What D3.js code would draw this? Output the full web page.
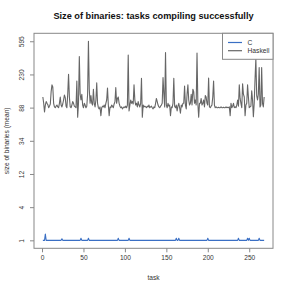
<!DOCTYPE html>
<html><head><meta charset="utf-8">
<script src="https://cdn.jsdelivr.net/npm/d3@7"></script>
<style>body{margin:0;background:#fff}svg{display:block}text{font-family:"Liberation Sans",Arial,sans-serif}</style>
</head><body>
<svg id="c" width="291" height="291"></svg>
<script>
const title = "Size of binaries: tasks compiling successfully";
const xLabel = "task";
const yLabel = "size of binaries (mean)";
const seriesNames = ["C", "Haskell"];
const seriesColors = ["#3a6fc4", "#666666"];
const xTicks = [0, 50, 100, 150, 200, 250];
const yTickLabels = [1, 4, 12, 34, 88, 230, 595];

const haskell = [
 120,100,78,95,105,100,96,88,92,98,
 140,170,160,100,90,88,92,95,90,88,
 100,120,95,90,98,110,127,118,92,88,
 130,230,120,90,88,95,105,100,92,90,
 88,190,67,100,385,130,110,130,95,88,
 100,95,88,92,130,595,150,100,125,100,
 95,150,100,90,110,180,100,88,85,90,
 70,88,92,90,95,88,100,110,155,95,
 70,90,88,95,92,88,98,105,157,100,
 115,120,100,92,88,90,85,88,90,88,
 92,88,95,400,80,95,110,100,105,98,
 170,110,95,100,90,105,95,90,100,205,
 67,95,90,92,90,88,92,90,95,88,
 90,92,88,85,90,88,100,115,105,95,
 90,88,92,95,100,210,130,90,430,95,
 88,100,92,95,70,90,88,100,205,92,
 88,95,80,92,100,88,75,95,90,100,
 100,165,95,85,130,170,110,95,100,130,
 95,150,140,100,110,95,425,100,67,100,
 100,115,95,100,110,90,125,120,100,95,
 207,90,88,92,95,120,190,95,88,90,
 88,88,89,88,88,90,88,88,89,88,
 88,90,88,89,88,90,70,100,88,92,
 100,88,90,88,95,110,92,170,115,100,
 88,175,130,120,70,95,100,170,120,88,
 90,92,143,110,68,100,200,365,125,110,
 130,280,90,95,280,100,90,120
];
const cLang = [
 1,1,1,1.4,1,1,1,1,1,1,
 1,1,1,1,1,1,1,1,1,1,
 1,1,1,1.09,1,1,1,1,1,1,
 1,1,1,1,1,1,1,1,1,1,
 1,1,1,1,1,1,1.12,1,1,1,
 1,1,1,1,1,1.12,1,1,1,1,
 1,1,1,1,1,1,1,1,1,1,
 1,1,1,1,1,1,1,1,1,1,
 1,1,1,1,1,1,1,1,1,1,
 1,1.12,1,1,1,1,1,1,1,1,
 1,1,1,1,1.12,1,1,1,1,1,
 1,1,1,1,1,1,1,1,1,1,
 1,1,1,1,1,1,1,1,1,1,
 1,1,1,1,1,1,1,1,1,1,
 1,1,1,1,1,1,1,1,1,1,
 1,1,1,1,1,1,1,1,1,1,
 1,1.12,1,1,1.12,1,1,1,1,1,
 1,1,1,1,1,1,1,1,1,1,
 1,1,1,1,1,1,1,1,1,1,
 1,1,1,1,1,1,1,1,1,1.12,
 1,1,1,1,1,1,1,1,1,1,
 1,1,1,1,1,1,1,1,1,1,
 1,1,1,1,1,1,1,1,1,1,
 1,1,1,1,1,1,1.12,1,1,1,
 1,1,1,1,1,1,1,1.12,1,1.12,
 1,1,1,1,1,1,1,1,1,1,
 1,1.12,1,1,1,1,1,1
];

const svg = d3.select("#c");
const L = 34, R = 273, T = 33.3, B = 248.3;
const n = haskell.length;
const px = 0.04 * (n - 1);
const x = d3.scaleLinear().domain([1 - px, n + px]).range([L, R]);
const lo = Math.log1p(yTickLabels[0]), hi = Math.log1p(yTickLabels[yTickLabels.length-1]);
const pad = 0.04 * (hi - lo);
const y = d3.scaleSymlog().constant(1).domain([Math.expm1(lo - pad), Math.expm1(hi + pad)]).range([B, T]);
const yTickPos = yTickLabels.map((d, i) => Math.expm1(lo + i * (hi - lo) / (yTickLabels.length - 1)));

const line = d3.line().x((d, i) => x(i + 1)).y(d => y(d));
[cLang, haskell].forEach((s, k) => {
  svg.append("path").datum(s).attr("d", line).attr("fill", "none")
    .attr("stroke", seriesColors[k]).attr("stroke-width", 1.1).attr("stroke-linejoin", "round");
});

// box
svg.append("rect").attr("x", L).attr("y", T).attr("width", R - L).attr("height", B - T)
  .attr("fill", "none").attr("stroke", "#888").attr("stroke-width", 1);

const ff = "Liberation Sans, Arial, sans-serif";
// x axis
const xa = svg.append("g").attr("transform", `translate(0,${B})`)
  .call(d3.axisBottom(x).tickValues(xTicks).tickSize(4).tickPadding(3));
xa.select(".domain").remove();
xa.selectAll("line").attr("stroke", "#888");
xa.selectAll("text").attr("font-size", 6.6).attr("fill", "#333").attr("font-family", ff);

// y axis
const ya = svg.append("g").attr("transform", `translate(${L},0)`)
  .call(d3.axisLeft(y).tickValues(yTickPos).tickFormat((d, i) => yTickLabels[i]).tickSize(4).tickPadding(0));
ya.select(".domain").remove();
ya.selectAll("line").attr("stroke", "#888");
ya.selectAll("text").attr("font-size", 6.6).attr("fill", "#333").attr("font-family", ff)
  .attr("text-anchor", "middle").attr("dy", 0).attr("x", 0)
  .attr("transform", "translate(-10,0) rotate(-90)");

// titles
svg.append("text").attr("x", (L + R) / 2).attr("y", 18.5).attr("text-anchor", "middle")
  .attr("font-size", 9.2).attr("font-weight", "bold").attr("fill", "#111").text(title);
svg.append("text").attr("x", (L + R) / 2).attr("y", 279.5).attr("text-anchor", "middle")
  .attr("font-size", 6.6).attr("fill", "#333").text(xLabel);
svg.append("text").attr("transform", `translate(8.5,${(T + B) / 2}) rotate(-90)`).attr("text-anchor", "middle")
  .attr("font-size", 6.6).attr("fill", "#333").text(yLabel);

// legend
const lg = svg.append("g");
lg.append("rect").attr("x", 222.5).attr("y", T).attr("width", R - 222.5).attr("height", 26)
  .attr("fill", "#fff").attr("stroke", "#888").attr("stroke-width", 1);
seriesNames.forEach((nm, k) => {
  const yy = 42.5 + k * 8.2;
  lg.append("line").attr("x1", 228).attr("x2", 242).attr("y1", yy).attr("y2", yy)
    .attr("stroke", seriesColors[k]).attr("stroke-width", 1.2);
  lg.append("text").attr("x", 247.5).attr("y", yy + 2.3).attr("font-size", 6.7).attr("fill", "#333").text(nm);
});
</script>
</body></html>
